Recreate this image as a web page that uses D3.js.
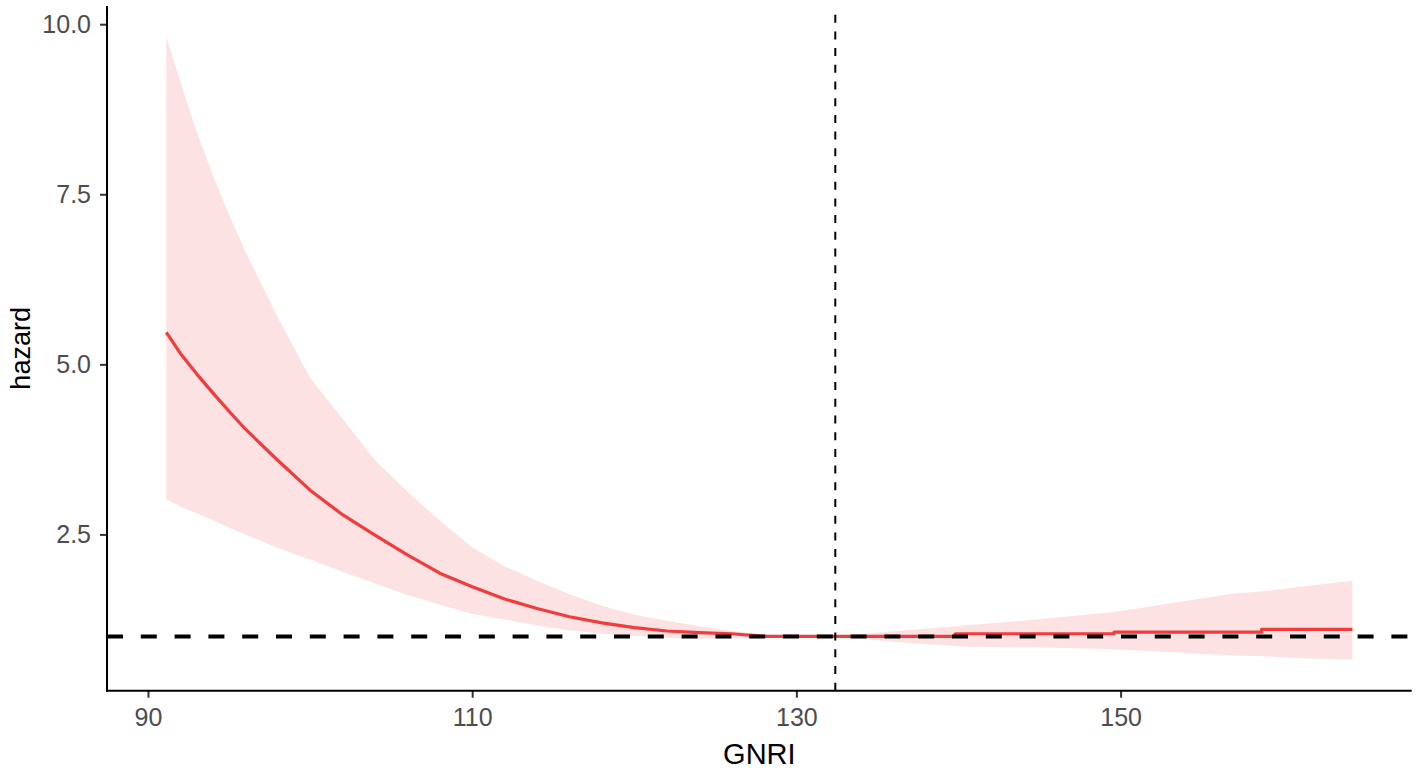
<!DOCTYPE html>
<html>
<head>
<meta charset="utf-8">
<script src="https://cdn.jsdelivr.net/npm/d3@7/dist/d3.min.js"></script>
<style>
  html, body { margin: 0; padding: 0; background: #ffffff; }
  svg { display: block; font-family: "Liberation Sans", Arial, sans-serif; }
</style>
</head>
<body>
<svg id="chart" width="1418" height="770"></svg>
<script>
// ---- Data ----
const gnri = [91.13, 92, 93, 94, 95, 96, 98, 100, 102, 104, 106, 108, 110, 112, 114, 116, 118, 120, 122, 124, 126, 128, 130, 132.4,
              136.2, 139.8, 139.8, 140.3, 144.5, 148.8, 149.6, 149.6, 152.9, 157, 158.7, 158.7, 161.1, 164.3];
const hazard = [5.47, 5.16, 4.86, 4.58, 4.31, 4.05, 3.59, 3.15, 2.79, 2.49, 2.20, 1.93, 1.73, 1.55, 1.41, 1.29, 1.20, 1.13, 1.08, 1.055, 1.04, 1.0, 1.0, 1.0,
                1.0, 1.0, 1.04, 1.04, 1.04, 1.04, 1.04, 1.065, 1.065, 1.065, 1.065, 1.105, 1.105, 1.105];
const upper = [9.81, 9.15, 8.42, 7.78, 7.20, 6.66, 5.69, 4.80, 4.20, 3.59, 3.13, 2.70, 2.31, 2.03, 1.82, 1.62, 1.45, 1.32, 1.23, 1.15, 1.08, 1.03, 1.01, 1.0,
               1.08, 1.15, 1.15, 1.16, 1.24, 1.34, 1.36, 1.36, 1.48, 1.63, 1.66, 1.66, 1.73, 1.82];
const lower = [3.02, 2.91, 2.81, 2.71, 2.60, 2.50, 2.30, 2.13, 1.95, 1.78, 1.61, 1.47, 1.33, 1.25, 1.16, 1.09, 1.04, 1.01, 0.98, 0.97, 0.97, 0.98, 0.99, 1.0,
               0.92, 0.86, 0.86, 0.85, 0.84, 0.82, 0.81, 0.81, 0.77, 0.72, 0.71, 0.71, 0.68, 0.66];
const xTicks = [90, 110, 130, 150];
const yTicks = [2.5, 5.0, 7.5, 10.0];
const refHazard = 1;
const cutoff = 132.4;
const xTitle = "GNRI";
const yTitle = "hazard";

// ---- Layout ----
const panel = { left: 107, right: 1411.7, top: 6, bottom: 690.7 };
const svg = d3.select("#chart");

function expand(ext) { const r = ext[1] - ext[0]; return [ext[0] - 0.05 * r, ext[1] + 0.05 * r]; }
const x = d3.scaleLinear().domain(expand(d3.extent(gnri))).range([panel.left, panel.right]);
const y = d3.scaleLinear().domain(expand([d3.min(lower), d3.max(upper)])).range([panel.bottom, panel.top]);

const rows = gnri.map((g, i) => ({ g, h: hazard[i], lo: lower[i], hi: upper[i] }));

// ribbon
svg.append("path")
  .datum(rows)
  .attr("fill", "#FDE2E3")
  .attr("d", d3.area().x(d => x(d.g)).y0(d => y(d.lo)).y1(d => y(d.hi)));

// hazard curve
svg.append("path")
  .datum(rows)
  .attr("fill", "none")
  .attr("stroke", "#F03C3C")
  .attr("stroke-width", 3.2)
  .attr("stroke-linejoin", "round")
  .attr("d", d3.line().x(d => x(d.g)).y(d => y(d.h)));

// reference horizontal dashed line
svg.append("line")
  .attr("x1", panel.left).attr("x2", panel.right)
  .attr("y1", y(refHazard)).attr("y2", y(refHazard))
  .attr("stroke", "#000").attr("stroke-width", 4)
  .attr("stroke-dasharray", "16,17.8");

// vertical cutoff dashed line (drawn bottom -> top)
svg.append("line")
  .attr("x1", x(cutoff)).attr("x2", x(cutoff))
  .attr("y1", panel.bottom).attr("y2", panel.top)
  .attr("stroke", "#000").attr("stroke-width", 2)
  .attr("stroke-dasharray", "8,8.7");

// axes
const xAxis = d3.axisBottom(x).tickValues(xTicks).tickSize(7).tickPadding(11).tickFormat(d3.format("d"));
const yAxis = d3.axisLeft(y).tickValues(yTicks).tickSize(7).tickPadding(9).tickFormat(d3.format(".1f"));

const gx = svg.append("g").attr("transform", `translate(0,${panel.bottom})`).call(xAxis);
const gy = svg.append("g").attr("transform", `translate(${panel.left},0)`).call(yAxis);

[gx, gy].forEach(g => {
  g.select(".domain").remove();
  g.selectAll(".tick line").attr("stroke", "#333").attr("stroke-width", 2);
  g.selectAll(".tick text")
    .attr("fill", "#4D4D4D")
    .style("font-size", "25px")
    .style("font-family", "'Liberation Sans', Arial, sans-serif");
});

// axis lines
svg.append("line")
  .attr("x1", panel.left).attr("x2", panel.left)
  .attr("y1", panel.top).attr("y2", panel.bottom + 1)
  .attr("stroke", "#000").attr("stroke-width", 2);
svg.append("line")
  .attr("x1", panel.left - 1).attr("x2", panel.right)
  .attr("y1", panel.bottom).attr("y2", panel.bottom)
  .attr("stroke", "#000").attr("stroke-width", 2);

// axis titles
svg.append("text")
  .attr("x", (panel.left + panel.right) / 2)
  .attr("y", 764)
  .attr("text-anchor", "middle")
  .style("font-size", "29px")
  .attr("fill", "#000")
  .text(xTitle);

svg.append("text")
  .attr("transform", `translate(30,${(panel.top + panel.bottom) / 2}) rotate(-90)`)
  .attr("text-anchor", "middle")
  .style("font-size", "27px")
  .attr("fill", "#000")
  .text(yTitle);
</script>
</body>
</html>
